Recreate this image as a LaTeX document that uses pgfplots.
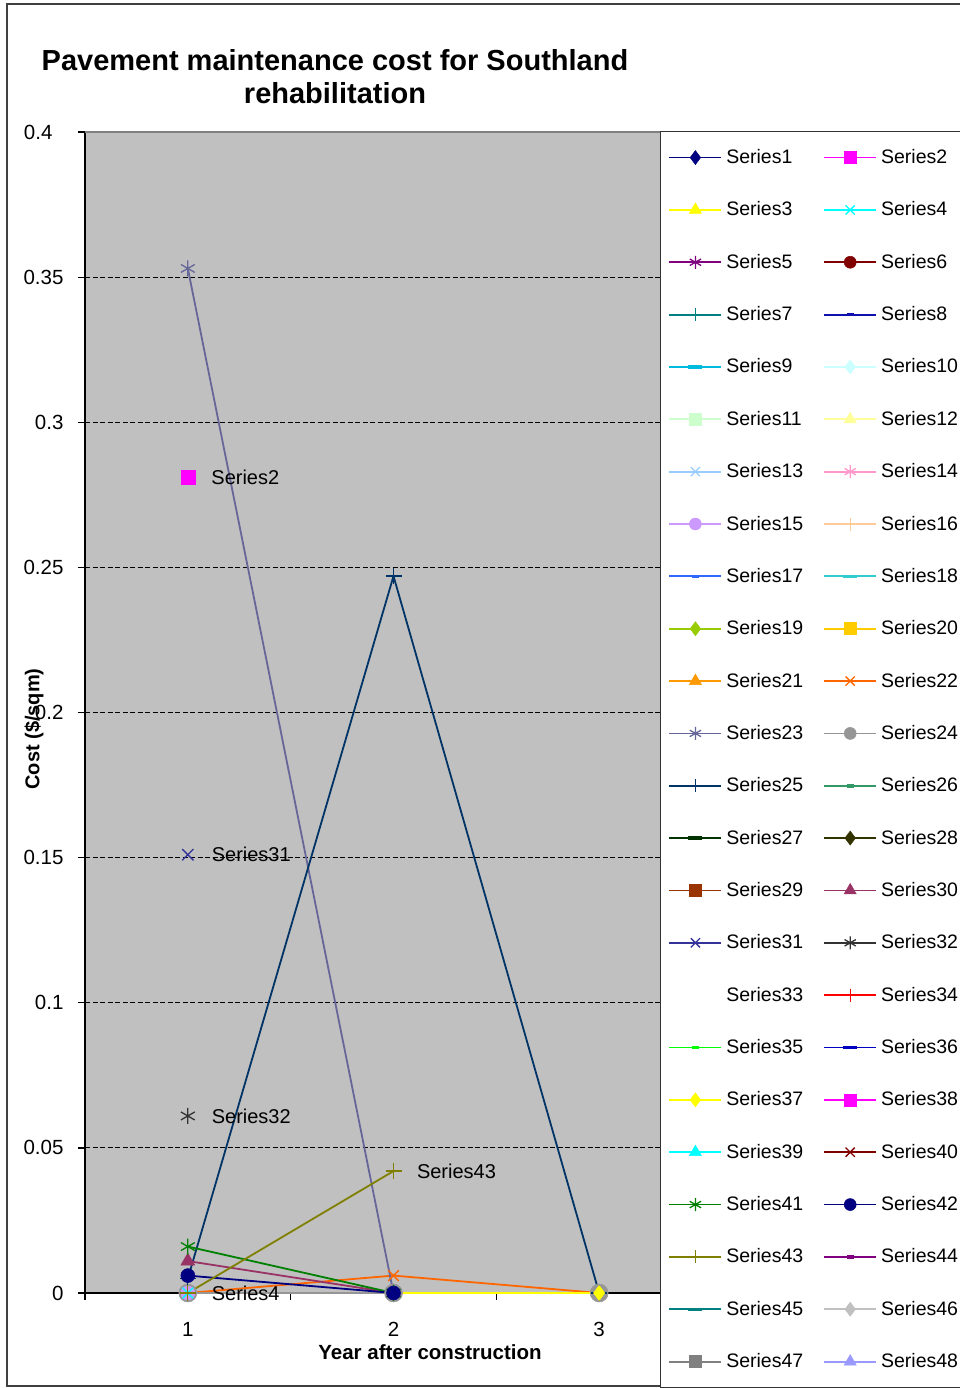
\documentclass[border=0pt]{standalone}
\usepackage{pgfplots}
\pgfplotsset{compat=1.18}
\usepackage{fontspec}
\setmainfont{Liberation Sans}
\usetikzlibrary{plotmarks}

\definecolor{plotbg}{HTML}{C0C0C0}
\definecolor{c1}{HTML}{000080}
\definecolor{c2}{HTML}{FF00FF}
\definecolor{c3}{HTML}{FFFF00}
\definecolor{c4}{HTML}{00FFFF}
\definecolor{c5}{HTML}{800080}
\definecolor{c6}{HTML}{800000}
\definecolor{c7}{HTML}{008080}
\definecolor{c8}{HTML}{1010B0}
\definecolor{c9}{HTML}{00BBDD}
\definecolor{c10}{HTML}{CCFFFF}
\definecolor{c11}{HTML}{CCFFCC}
\definecolor{c12}{HTML}{FFFF99}
\definecolor{c13}{HTML}{99CCFF}
\definecolor{c14}{HTML}{FF99CC}
\definecolor{c15}{HTML}{CC99FF}
\definecolor{c16}{HTML}{FFCC99}
\definecolor{c17}{HTML}{3366FF}
\definecolor{c18}{HTML}{33CCCC}
\definecolor{c19}{HTML}{99CC00}
\definecolor{c20}{HTML}{FFCC00}
\definecolor{c21}{HTML}{FF9900}
\definecolor{c22}{HTML}{FF6600}
\definecolor{c23}{HTML}{666699}
\definecolor{c24}{HTML}{969696}
\definecolor{c25}{HTML}{003366}
\definecolor{c26}{HTML}{339966}
\definecolor{c27}{HTML}{003300}
\definecolor{c28}{HTML}{333300}
\definecolor{c29}{HTML}{993300}
\definecolor{c30}{HTML}{993366}
\definecolor{c31}{HTML}{333399}
\definecolor{c32}{HTML}{333333}
\definecolor{c33}{HTML}{FFFFFF}
\definecolor{c34}{HTML}{FF0000}
\definecolor{c35}{HTML}{00FF00}
\definecolor{c36}{HTML}{0000C0}
\definecolor{c37}{HTML}{FFFF00}
\definecolor{c38}{HTML}{FF00FF}
\definecolor{c39}{HTML}{00FFFF}
\definecolor{c40}{HTML}{800000}
\definecolor{c41}{HTML}{008000}
\definecolor{c42}{HTML}{000080}
\definecolor{c43}{HTML}{808000}
\definecolor{c44}{HTML}{800080}
\definecolor{c45}{HTML}{008080}
\definecolor{c46}{HTML}{C0C0C0}
\definecolor{c47}{HTML}{808080}
\definecolor{c48}{HTML}{9999FF}

\pgfplotsset{
  mk diamond/.style={mark=diamond*, mark size=7pt, mark options={solid, line width=0.5pt}},
  mk square/.style={mark=square*, mark size=6pt, mark options={solid, line width=0.5pt}},
  mk triangle/.style={mark=triangle*, mark size=7pt, mark options={solid, line width=0.5pt}},
  mk x/.style={mark=x, mark size=6.5pt, mark options={solid, line width=1.3pt}},
  mk star/.style={mark=asterisk, mark size=6.5pt, mark options={solid, line width=1.3pt}},
  mk circle/.style={mark=*, mark size=6pt, mark options={solid, line width=0.5pt}},
  mk plus/.style={mark=+, mark size=6.5pt, mark options={solid, line width=1.3pt}},
  mk short/.style={mark=-, mark size=3.5pt, mark options={solid, line width=3.5pt}},
  mk long/.style={mark=-, mark size=7pt, mark options={solid, line width=3.5pt}},
  lab/.style={nodes near coords={#1}, every node near coord/.append style={anchor=west, xshift=20pt, yshift=0pt, text=black, font=\fontsize{20}{22}\selectfont}},
}
\newcommand\ser[2]{\pgfplotsset{s#1/.style={color=c#1, line width=1.8pt, mk #2}}}
\ser{1}{diamond}\ser{2}{square}\ser{3}{triangle}\ser{4}{x}\ser{5}{star}\ser{6}{circle}\ser{7}{plus}\ser{8}{short}\ser{9}{long}
\ser{10}{diamond}\ser{11}{square}\ser{12}{triangle}\ser{13}{x}\ser{14}{star}\ser{15}{circle}\ser{16}{plus}\ser{17}{short}\ser{18}{long}
\ser{19}{diamond}\ser{20}{square}\ser{21}{triangle}\ser{22}{x}\ser{23}{star}\ser{24}{circle}\ser{25}{plus}\ser{26}{short}\ser{27}{long}
\ser{28}{diamond}\ser{29}{square}\ser{30}{triangle}\ser{31}{x}\ser{32}{star}\ser{33}{circle}\ser{34}{plus}\ser{35}{short}\ser{36}{long}
\ser{37}{diamond}\ser{38}{square}\ser{39}{triangle}\ser{40}{x}\ser{41}{star}\ser{42}{circle}\ser{43}{plus}\ser{44}{short}\ser{45}{long}
\ser{46}{diamond}\ser{47}{square}\ser{48}{triangle}

\begin{document}
\begin{tikzpicture}
\useasboundingbox (0pt,0pt) rectangle (960pt,1388pt);
\draw[black!75, line width=1.5pt] (7pt,2pt) rectangle (1100pt,1384pt);
\begin{axis}[
  at={(85pt,95pt)}, anchor=south west,
  width=617pt, height=1161pt, scale only axis,
  xmin=0.5, xmax=3.5, ymin=0, ymax=0.4,
  clip=false,
  axis background/.style={fill=plotbg},
  axis x line*=bottom, axis y line*=left,
  axis line style={line width=1.3pt, black},
  tick style={line width=1.3pt, black},
  tick align=outside, major tick length=7pt,
  xtick={0.5,1.5,2.5,3.5}, xticklabels={},
  extra x ticks={1,2,3}, extra x tick labels={1,2,3},
  extra x tick style={major tick length=0pt, grid=none, xticklabel style={yshift=-26pt}},
  ytick={0,0.05,0.1,0.15,0.2,0.25,0.3,0.35},
  yticklabels={0,0.05,0.1,0.15,0.2,0.25,0.3,0.35},
  extra y ticks={0.4}, extra y tick labels={0.4},
  extra y tick style={grid=none, yticklabel style={xshift=-11pt}},
  yticklabel style={xshift=-11pt},
  ticklabel style={font=\fontsize{20.5}{22}\selectfont},
  ymajorgrids, major grid style={black, line width=1.2pt, dash pattern=on 5pt off 2.5pt},
  title={Pavement maintenance cost for Southland\\rehabilitation},
  title style={at={(axis description cs:0.4052,1.0422)}, anchor=center, align=center, font=\bfseries\fontsize{29}{33}\selectfont},
  xlabel={Year after construction},
  xlabel style={at={(axis description cs:0.5592,-0.0508)}, anchor=center, font=\bfseries\fontsize{20.5}{22}\selectfont},
  ylabel={Cost (\$/sqm)},
  ylabel style={at={(axis description cs:-0.08266,0.4858)}, anchor=center, font=\bfseries\fontsize{20}{22}\selectfont},
  legend image code/.code={\draw[mark repeat=2,mark phase=2,#1] plot coordinates {(0pt,0pt) (26pt,0pt) (52pt,0pt)};},
  legend columns=2, legend cell align=left,
  legend style={at={(axis description cs:0.93193,1.00086)}, anchor=north west,
    draw=black!80, line width=1pt, fill=white,
    font=\fontsize{19.5}{20}\selectfont,
    inner xsep=8pt, inner ysep=16pt, row sep=32.35pt,
    nodes={inner xsep=4pt, inner ysep=0pt, text height=16pt, text depth=4pt, text width=93pt, anchor=west}},
]
\addplot[s2, mark size=7pt, only marks, forget plot, lab={Series2}] coordinates {(1,0.281)};
\addplot[s22, mark size=7.5pt, forget plot] coordinates {(1,0) (2,0.006) (3,0)};
\addplot[s24, mark size=9pt, forget plot] coordinates {(1,0) (2,0) (3,0)};
\addplot[s15, mark size=7pt, forget plot] coordinates {(1,0)};
\addplot[s4, mark size=7.5pt, only marks, forget plot, lab={Series4}] coordinates {(1,0)};
\addplot[s23, mark size=8pt, forget plot] coordinates {(1,0.353) (2,0)};
\addplot[s25, mark size=8pt, forget plot] coordinates {(1,0.005) (2,0.247) (3,0)};
\addplot[s30, mark size=8pt, forget plot] coordinates {(1,0.011) (2,0)};
\addplot[s31, mark size=8pt, only marks, forget plot, lab={Series31}] coordinates {(1,0.151)};
\addplot[s32, mark size=8pt, only marks, forget plot, lab={Series32}] coordinates {(1,0.061)};
\addplot[s37, mark size=7.5pt, forget plot] coordinates {(2,0) (3,0)};
\addplot[s41, mark size=8pt, forget plot] coordinates {(1,0.016) (2,0)};
\addplot[s42, mark size=7pt, forget plot] coordinates {(1,0.006) (2,0)};
\addplot[s43, mark size=8pt, forget plot] coordinates {(1,0) (2,0.042)};
\addplot[draw=none, forget plot, lab={Series43}] coordinates {(2,0.042)};
\draw[gray, line width=1.5pt] (rel axis cs:0,1) -- (rel axis cs:1,1);
\addlegendimage{s1}\addlegendimage{s2}\addlegendimage{s3}\addlegendimage{s4}
\addlegendimage{s5}\addlegendimage{s6}\addlegendimage{s7}\addlegendimage{s8}
\addlegendimage{s9}\addlegendimage{s10}\addlegendimage{s11}\addlegendimage{s12}
\addlegendimage{s13}\addlegendimage{s14}\addlegendimage{s15}\addlegendimage{s16}
\addlegendimage{s17}\addlegendimage{s18}\addlegendimage{s19}\addlegendimage{s20}
\addlegendimage{s21}\addlegendimage{s22}\addlegendimage{s23}\addlegendimage{s24}
\addlegendimage{s25}\addlegendimage{s26}\addlegendimage{s27}\addlegendimage{s28}
\addlegendimage{s29}\addlegendimage{s30}\addlegendimage{s31}\addlegendimage{s32}
\addlegendimage{s33}\addlegendimage{s34}\addlegendimage{s35}\addlegendimage{s36}
\addlegendimage{s37}\addlegendimage{s38}\addlegendimage{s39}\addlegendimage{s40}
\addlegendimage{s41}\addlegendimage{s42}\addlegendimage{s43}\addlegendimage{s44}
\addlegendimage{s45}\addlegendimage{s46}\addlegendimage{s47}\addlegendimage{s48}
\legend{Series1,Series2,Series3,Series4,Series5,Series6,Series7,Series8,Series9,Series10,Series11,Series12,Series13,Series14,Series15,Series16,Series17,Series18,Series19,Series20,Series21,Series22,Series23,Series24,Series25,Series26,Series27,Series28,Series29,Series30,Series31,Series32,Series33,Series34,Series35,Series36,Series37,Series38,Series39,Series40,Series41,Series42,Series43,Series44,Series45,Series46,Series47,Series48}
\end{axis}
\end{tikzpicture}
\end{document}
